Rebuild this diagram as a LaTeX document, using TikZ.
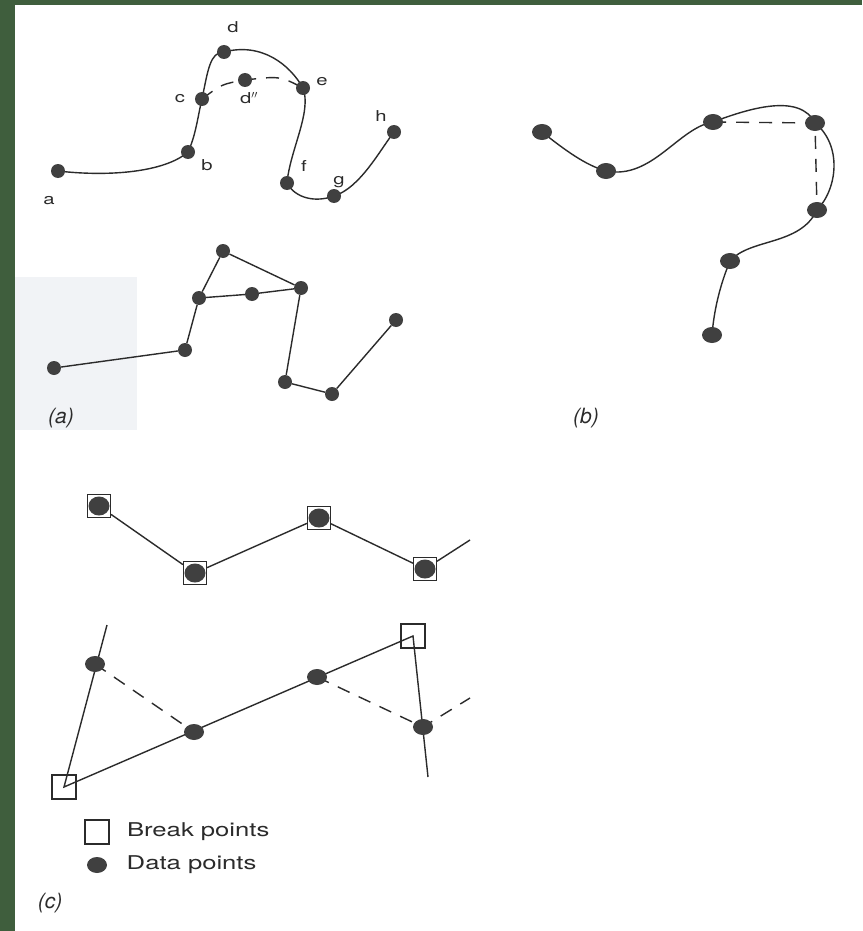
\documentclass[tikz,border=0pt]{standalone}
\usepackage{fontspec}
\setmainfont{TeX Gyre Heros}
\newfontfamily\widesans[FakeStretch=1.35]{TeX Gyre Heros}
\usepackage{tikz}
\usepackage{xcolor}
\usetikzlibrary{shapes.geometric,positioning}
\definecolor{scangreen}{HTML}{3F5E3D}
\definecolor{scanshade}{HTML}{F1F3F6}
\definecolor{ink}{HTML}{2B2B2B}
\tikzset{
  curve/.style={draw=ink, line width=1.4pt},
  chord/.style={draw=ink, line width=1.4pt, dash pattern=on 13pt off 10pt},
  dot/.style={circle, fill=ink!90, minimum size=14pt, inner sep=0pt},
  blob/.style={ellipse, fill=ink!90, minimum width=20pt, minimum height=16pt, inner sep=0pt},
  brkbox/.style={rectangle, draw=ink, line width=1.1pt, minimum size=23pt, inner sep=0pt},
  ptlabel/.style={text=ink, inner sep=0pt, font=\widesans\fontsize{15}{17}\selectfont},
  legend/.style={text=ink, font=\widesans\fontsize{19}{22}\selectfont},
  caption/.style={text=ink, font=\fontsize{21}{24}\selectfont\itshape},
}

\begin{document}
\begin{tikzpicture}[x=1pt, y=-1pt]
  % scanned page with its green edge
  \useasboundingbox (0,0) rectangle (862,931);
  \fill[scangreen] (0,0) rectangle (862,931);
  \fill[white] (15,5) rectangle (862,931);
  \fill[scanshade] (15,277) rectangle (137,430);

  % (a) smooth curve through the data
  \coordinate (a) at (58,171);
  \coordinate (b) at (188,152);
  \coordinate (c) at (202,99);
  \coordinate (d) at (224,52);
  \coordinate (dd) at (245,80);
  \coordinate (e) at (303,88);
  \coordinate (f) at (287,183);
  \coordinate (g) at (334,196);
  \coordinate (h) at (394,132);
  \draw[curve] (a) .. controls (110,177) and (165,172) .. (b)
    .. controls (196,135) and (198,115) .. (c)
    .. controls (208,70) and (210,52) .. (d)
    .. controls (262,42) and (290,65) .. (e)
    .. controls (312,112) and (290,150) .. (f)
    .. controls (295,198) and (315,203) .. (g)
    .. controls (360,188) and (380,150) .. (h);
  \draw[chord] (c) .. controls (222,84) .. (dd) .. controls (280,76) .. (e);
  \foreach \p in {a,b,c,d,dd,e,f,g,h}
    \node[dot] (\p-pt) at (\p) {};
  \node[ptlabel] (lbl-a) at (49,201) {a};
  \node[ptlabel] (lbl-b) at (207,165) {b};
  \node[ptlabel] (lbl-c) at (180,99) {c};
  \node[ptlabel] (lbl-d) at (233,27) {d};
  \node[ptlabel] (lbl-dd) at (249,98) {d$''$};
  \node[ptlabel] (lbl-e) at (322,82) {e};
  \node[ptlabel] (lbl-f) at (304,166) {f};
  \node[ptlabel] (lbl-g) at (339,182) {g};
  \node[ptlabel] (lbl-h) at (381,116) {h};

  % (a) straight segments
  \node[dot] (sa) at (54,368) {};
  \node[dot] (sb) at (185,350) {};
  \node[dot] (sc) at (199,298) {};
  \node[dot] (sd) at (223,251) {};
  \node[dot] (sdd) at (252,294) {};
  \node[dot] (se) at (301,288) {};
  \node[dot] (sf) at (285,382) {};
  \node[dot] (sg) at (332,394) {};
  \node[dot] (sh) at (396,320) {};
  \draw[curve] (sa) -- (sb) -- (sc) -- (sd) -- (se) -- (sf) -- (sg) -- (sh);
  \draw[curve] (sc) -- (sdd) -- (se);
  \node[caption] (cap-a) at (61,418) {(a)};

  % (b) curve with chords
  \coordinate (b1) at (542,132);
  \coordinate (b2) at (606,171);
  \coordinate (b3) at (713,122);
  \coordinate (b4) at (815,123);
  \coordinate (b5) at (817,210);
  \coordinate (b6) at (730,261);
  \coordinate (b7) at (712,335);
  \draw[curve] (b1) .. controls (565,150) and (585,165) .. (b2)
    .. controls (652,180) and (678,128) .. (b3)
    .. controls (750,108) and (800,93) .. (b4)
    .. controls (842,145) and (838,188) .. (b5)
    .. controls (800,246) and (750,238) .. (b6)
    .. controls (720,285) and (714,310) .. (b7);
  \draw[chord] (b3) -- (b4) -- (b5);
  \foreach \p in {b1,b2,b3,b4,b5,b6,b7}
    \node[blob] (\p-pt) at (\p) {};
  \node[caption] (cap-b) at (586,418) {(b)};

  % (c) every point a break point
  \coordinate (t5) at (470,540);
  \node[brkbox] (t1) at (99,506) {};
  \node[brkbox] (t2) at (195,573) {};
  \node[brkbox] (t3) at (319,518) {};
  \node[brkbox] (t4) at (425,569) {};
  \foreach \p in {t1,t2,t3,t4}
    \node[blob, minimum width=21pt, minimum height=19pt] at (\p) {};
  \draw[curve] (t1) -- (t2) -- (t3) -- (t4) -- (t5);

  % (c) few break points
  \coordinate (u1) at (107,625);
  \coordinate (u2) at (428,777);
  \coordinate (u3) at (470,698);
  \node[brkbox, minimum size=24pt] (k1) at (64,787) {};
  \node[brkbox, minimum size=24pt] (k2) at (413,636) {};
  \coordinate (m1) at (95,664);
  \coordinate (m2) at (194,732);
  \coordinate (m3) at (317,677);
  \coordinate (m4) at (423,727);
  \draw[curve] (u1) -- (k1.center) -- (k2.center) -- (u2);
  \draw[chord] (m1) -- (m2);
  \draw[chord] (m3) -- (m4) -- (u3);
  \foreach \p in {m1,m2,m3,m4}
    \node[blob] (\p-pt) at (\p) {};

  % key
  \node[brkbox, minimum size=24pt] (key-brk) at (97,832) {};
  \node[blob] (key-dat) at (97,865) {};
  \node[legend, right=14pt of key-brk] {Break points};
  \node[legend, right=16pt of key-dat] {Data points};
  \node[caption] (cap-c) at (50,903) {(c)};
\end{tikzpicture}
\end{document}
